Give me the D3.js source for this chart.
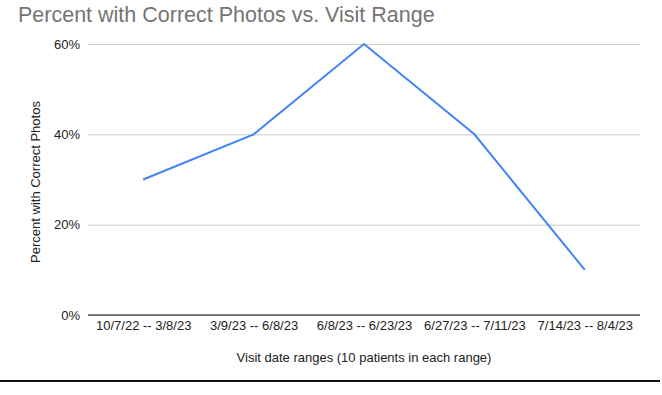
<!DOCTYPE html>
<html>
<head>
<meta charset="utf-8">
<script src="https://cdn.jsdelivr.net/npm/d3@7"></script>
<style>
  body { margin: 0; background: #fff; }
  text { font-family: "Liberation Sans", Arial, sans-serif; }
</style>
</head>
<body>
<div class="chart"></div>
<script>
const w = 662;
const h = 395;
const categories = ["10/7/22 -- 3/8/23", "3/9/23 -- 6/8/23", "6/8/23 -- 6/23/23", "6/27/23 -- 7/11/23", "7/14/23 -- 8/4/23"];
const percent = [0.30, 0.40, 0.60, 0.40, 0.10];
const yTicks = [0, 0.2, 0.4, 0.6];

const plot = { left: 88, right: 640, top: 44, bottom: 315 };

const svg = d3.select(".chart").append("svg").attr("width", w).attr("height", h);

// title
svg.append("text")
  .attr("x", 18).attr("y", 22)
  .attr("font-size", 21.5)
  .attr("fill", "#757575")
  .text("Percent with Correct Photos vs. Visit Range");

var xScale = d3.scalePoint().domain(categories).range([plot.left, plot.right]).padding(0.5);
var yScale = d3.scaleLinear().domain([0, 0.6]).range([plot.bottom, plot.top]);

// gridlines + y labels
var yAxis = d3.axisLeft(yScale).tickValues(yTicks).tickFormat(d3.format(".0%"))
  .tickSize(-(plot.right - plot.left)).tickPadding(8);

svg.append("g")
  .attr("transform", "translate(" + plot.left + ",0)")
  .call(yAxis)
  .call(g => g.select(".domain").remove())
  .call(g => g.selectAll(".tick line").attr("stroke", "#cccccc").attr("stroke-width", 1))
  .call(g => g.selectAll(".tick text").attr("font-size", 13).attr("fill", "#222").attr("font-family", "Liberation Sans, Arial, sans-serif"));

// baseline
svg.append("line")
  .attr("x1", plot.left).attr("x2", plot.right)
  .attr("y1", yScale(0)).attr("y2", yScale(0))
  .attr("stroke", "#555").attr("stroke-width", 1.5);

// x labels
var xAxis = d3.axisBottom(xScale).tickSize(0).tickPadding(6);
svg.append("g")
  .attr("transform", "translate(0," + plot.bottom + ")")
  .call(xAxis)
  .call(g => g.select(".domain").remove())
  .call(g => g.selectAll(".tick text").attr("font-size", 13).attr("fill", "#222").attr("font-family", "Liberation Sans, Arial, sans-serif"));

// the line
var line = d3.line().x((d, i) => xScale(categories[i])).y(d => yScale(d));
svg.append("path")
  .datum(percent)
  .attr("d", line)
  .attr("fill", "none")
  .attr("stroke", "#4285f4")
  .attr("stroke-width", 2);

// axis titles
svg.append("text")
  .attr("transform", "rotate(-90)")
  .attr("x", -182).attr("y", 40)
  .attr("text-anchor", "middle")
  .attr("font-size", 13).attr("fill", "#222")
  .text("Percent with Correct Photos");

svg.append("text")
  .attr("x", 364).attr("y", 362)
  .attr("text-anchor", "middle")
  .attr("font-size", 13).attr("fill", "#222")
  .text("Visit date ranges (10 patients in each range)");

// rule under the chart
svg.append("line")
  .attr("x1", 0).attr("x2", 660)
  .attr("y1", 381).attr("y2", 381)
  .attr("stroke", "#111").attr("stroke-width", 2);
</script>
</body>
</html>
